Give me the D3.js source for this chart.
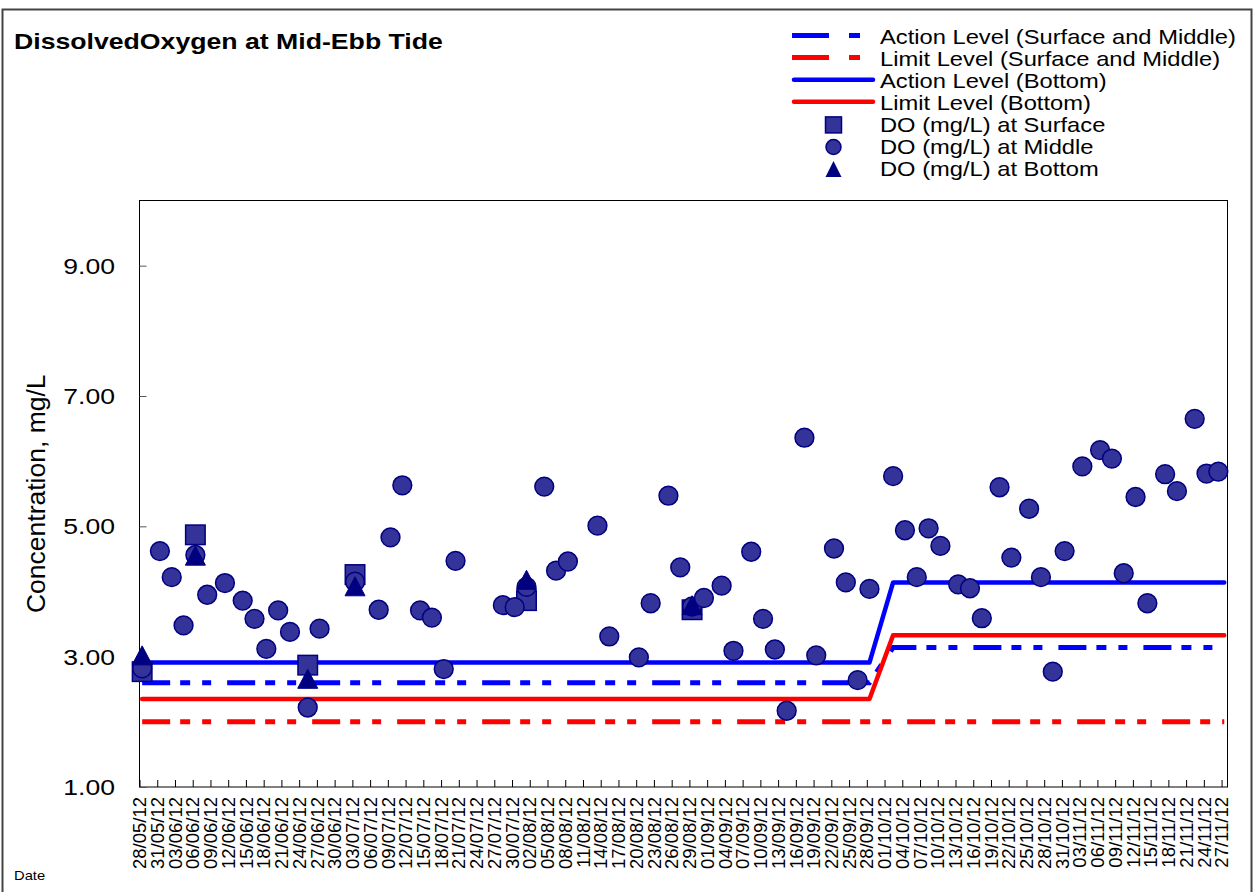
<!DOCTYPE html>
<html><head><meta charset="utf-8">
<script src="https://cdn.jsdelivr.net/npm/d3@7/dist/d3.min.js"></script>
<style>
body{margin:0;background:#fff}
svg{display:block}
text{font-family:"Liberation Sans",Arial,Helvetica,sans-serif;fill:#000}
</style>
</head><body>
<svg id="chart" width="1253" height="892"></svg>
<script>
// ---------- data ----------
const sampleDates = ["2012-05-28","2012-05-31","2012-06-02","2012-06-04","2012-06-06","2012-06-08","2012-06-11","2012-06-14","2012-06-16","2012-06-18","2012-06-20","2012-06-22","2012-06-25","2012-06-27","2012-07-03","2012-07-07","2012-07-09","2012-07-11","2012-07-14","2012-07-16","2012-07-18","2012-07-20","2012-07-28","2012-07-30","2012-08-01","2012-08-04","2012-08-06","2012-08-08","2012-08-13","2012-08-15","2012-08-20","2012-08-22","2012-08-25","2012-08-27","2012-08-29","2012-08-31","2012-09-03","2012-09-05","2012-09-08","2012-09-10","2012-09-12","2012-09-14","2012-09-17","2012-09-19","2012-09-22","2012-09-24","2012-09-26","2012-09-28","2012-10-02","2012-10-04","2012-10-06","2012-10-08","2012-10-10","2012-10-13","2012-10-15","2012-10-17","2012-10-20","2012-10-22","2012-10-25","2012-10-27","2012-10-29","2012-10-31","2012-11-03","2012-11-06","2012-11-08","2012-11-10","2012-11-12","2012-11-14","2012-11-17","2012-11-19","2012-11-22","2012-11-24","2012-11-26"];
const doMiddle = [2.82,4.62,4.22,3.48,4.56,3.95,4.13,3.86,3.58,3.12,3.71,3.38,2.22,3.43,4.15,3.72,4.83,5.63,3.71,3.60,2.81,4.47,3.79,3.76,4.07,5.61,4.32,4.46,5.01,3.31,2.99,3.82,5.47,4.37,3.77,3.90,4.09,3.09,4.61,3.58,3.11,2.17,6.36,3.02,4.66,4.14,2.64,4.04,5.77,4.94,4.22,4.97,4.70,4.11,4.05,3.59,5.60,4.52,5.27,4.22,2.77,4.62,5.92,6.17,6.04,4.28,5.45,3.82,5.80,5.54,6.65,5.81,5.84];
const surfaceDates = ["2012-05-28","2012-06-06","2012-06-25","2012-07-03","2012-08-01","2012-08-29"];
const doSurface = [2.77,4.87,2.87,4.26,3.86,3.72];
const bottomDates = ["2012-05-28","2012-06-06","2012-06-25","2012-07-03","2012-08-01","2012-08-29"];
const doBottom = [3.02,4.55,2.66,4.08,4.18,3.79];
const levelDates = ["2012-05-28","2012-09-28","2012-10-02","2012-11-27"];
const actionSurfMid = [2.60,2.60,3.14,3.14];
const limitSurfMid = [2.00,2.00,2.00,2.00];
const actionBottom = [2.91,2.91,4.14,4.14];
const limitBottom = [2.35,2.35,3.33,3.33];
const sampleTime = "10:48";
const axisStart = "2012-05-28", axisEnd = "2012-11-28";
const yTicks = [1,3,5,7,9];
const yDomain = [1,10];
const titleText = "DissolvedOxygen at Mid-Ebb Tide";
const yTitle = "Concentration, mg/L";
const xTitle = "Date";
const legendLabels = ["Action Level (Surface and Middle)","Limit Level (Surface and Middle)","Action Level (Bottom)","Limit Level (Bottom)","DO (mg/L) at Surface","DO (mg/L) at Middle","DO (mg/L) at Bottom"];

// ---------- setup ----------
const svg = d3.select("#chart");
const W = 1253, H = 892;
const plot = {left:139.5, right:1227.5, top:200.5, bottom:787};
const SX = 1.18; // horizontal text stretch of the original rendering

const parseDay = d3.timeParse("%Y-%m-%d");
const parseDT = d3.timeParse("%Y-%m-%d %H:%M");
const at = d => parseDT(d + " " + sampleTime);

const x = d3.scaleTime().domain([parseDay(axisStart), parseDay(axisEnd)]).range([plot.left, plot.right]);
const y = d3.scaleLinear().domain(yDomain).range([plot.bottom, plot.top]);

const C_BLUE = "#0000ff", C_RED = "#ff0000", C_MARK = "#333399", C_EDGE = "#000080";

// outer chart border
svg.append("rect").attr("x",2.5).attr("y",9.5).attr("width",W-4).attr("height",H+20)
  .attr("fill","none").attr("stroke","#444").attr("stroke-width",2);

function sText(g, x0, y0, txt, size, opts={}) {
  return g.append("text")
    .attr("transform", `translate(${x0},${y0}) scale(${opts.sx ?? SX},1)`)
    .attr("font-size", size)
    .attr("font-weight", opts.bold ? "bold" : null)
    .attr("text-anchor", opts.anchor || "start")
    .attr("dy", opts.dy || null)
    .text(txt);
}
// title
sText(svg, 14, 48.5, titleText, 21.5, {bold:true, sx:1.24});

// plot frame
svg.append("rect").attr("x",plot.left).attr("y",plot.top)
  .attr("width",plot.right-plot.left).attr("height",plot.bottom-plot.top)
  .attr("fill","none").attr("stroke","#000").attr("stroke-width",1);

// y axis ticks (inward) and labels
const yAxis = d3.axisRight(y).tickValues(yTicks).tickSize(7).tickFormat("");
svg.append("g").attr("transform",`translate(${plot.left},0)`).call(yAxis)
  .call(g => g.select(".domain").remove())
  .call(g => g.selectAll(".tick line").attr("stroke","#555"));
const yl = svg.append("g");
yTicks.forEach(v => sText(yl, 115, y(v), d3.format(".2f")(v), 22.5, {anchor:"end", dy:"0.36em", sx:1.18}));

// y title
svg.append("text")
  .attr("transform", `translate(45,${(plot.top+plot.bottom)/2}) rotate(-90)`)
  .attr("text-anchor","middle").attr("font-size",26.5).text(yTitle);

// x axis ticks (inward, every 3 days)
const xTickDates = d3.timeDay.range(parseDay(axisStart), parseDay(axisEnd), 3);
const xAxis = d3.axisTop(x).tickValues(xTickDates).tickSize(7).tickFormat("");
svg.append("g").attr("transform",`translate(0,${plot.bottom})`).call(xAxis)
  .call(g => g.select(".domain").remove())
  .call(g => g.selectAll(".tick line").attr("stroke","#000"));
const fmt = d3.timeFormat("%d/%m/%y");
svg.append("g").selectAll("text").data(xTickDates).join("text")
  .attr("transform", d => `translate(${x(d)},797) rotate(-90)`)
  .attr("text-anchor","end").attr("dy","0.36em").attr("font-size",18.5)
  .text(d => fmt(d));
sText(svg, 14, 880, xTitle, 12.5);

// level lines
const lvlDates = levelDates.map(at);
const line = d3.line().x((d,i)=>x(lvlDates[i])).y(d=>y(d));
const dashPat = "28,10,10,12,9,16";
const lines = svg.append("g");
lines.append("path").attr("d", line(actionSurfMid)).attr("fill","none").attr("stroke",C_BLUE).attr("stroke-width",5).attr("stroke-dasharray",dashPat);
lines.append("path").attr("d", line(limitSurfMid)).attr("fill","none").attr("stroke",C_RED).attr("stroke-width",5).attr("stroke-dasharray",dashPat);
lines.append("path").attr("d", line(actionBottom)).attr("fill","none").attr("stroke",C_BLUE).attr("stroke-width",4.5).attr("stroke-linecap","round").attr("stroke-linejoin","round");
lines.append("path").attr("d", line(limitBottom)).attr("fill","none").attr("stroke",C_RED).attr("stroke-width",4.5).attr("stroke-linecap","round").attr("stroke-linejoin","round");

// markers
const sqSize = 19.5, cR = 9.4;
const triPath = (cx, cy) => `M${cx},${cy-9.5}L${cx+10},${cy+9.5}L${cx-10},${cy+9.5}Z`;
const marks = svg.append("g");
marks.selectAll("rect.s").data(doSurface).join("rect").attr("class","s")
  .attr("x",(d,i)=>x(at(surfaceDates[i]))-sqSize/2).attr("y",d=>y(d)-sqSize/2)
  .attr("width",sqSize).attr("height",sqSize)
  .attr("fill",C_MARK).attr("stroke",C_EDGE).attr("stroke-width",1.5);
marks.selectAll("circle.m").data(doMiddle).join("circle").attr("class","m")
  .attr("cx",(d,i)=>x(at(sampleDates[i]))).attr("cy",d=>y(d)).attr("r",cR)
  .attr("fill",C_MARK).attr("stroke",C_EDGE).attr("stroke-width",1.5);
marks.selectAll("path.b").data(doBottom).join("path").attr("class","b")
  .attr("d",(d,i)=>triPath(x(at(bottomDates[i])), y(d)))
  .attr("fill",C_EDGE).attr("stroke",C_EDGE).attr("stroke-width",1);

// legend
const lg = svg.append("g");
const lx0 = 792, lx1 = 875, ltx = 880, lb0 = 43.5, lstep = 22.1;
legendLabels.forEach((t,i) => {
  const base = lb0 + i*lstep, cy = base - 8;
  if (i < 2) {
    lg.append("line").attr("x1",lx0).attr("x2",lx1).attr("y1",cy).attr("y2",cy)
      .attr("stroke", i===0?C_BLUE:C_RED).attr("stroke-width",5).attr("stroke-dasharray","37,20,11,100");
  } else if (i < 4) {
    lg.append("line").attr("x1",lx0+2).attr("x2",lx1-2).attr("y1",cy).attr("y2",cy)
      .attr("stroke", i===2?C_BLUE:C_RED).attr("stroke-width",4.5).attr("stroke-linecap","round");
  } else {
    const mx = (lx0+lx1)/2, my = base - 7;
    if (i===4) lg.append("rect").attr("x",mx-8).attr("y",my-8).attr("width",16).attr("height",16).attr("fill",C_MARK).attr("stroke",C_EDGE).attr("stroke-width",1.5);
    if (i===5) lg.append("circle").attr("cx",mx).attr("cy",my).attr("r",7.5).attr("fill",C_MARK).attr("stroke",C_EDGE).attr("stroke-width",1.5);
    if (i===6) lg.append("path").attr("d",`M${mx},${my-8}L${mx+8},${my+8}L${mx-8},${my+8}Z`).attr("fill",C_EDGE);
  }
  sText(lg, ltx, base, t, 21, {sx:1.13});
});
</script>
</body></html>
